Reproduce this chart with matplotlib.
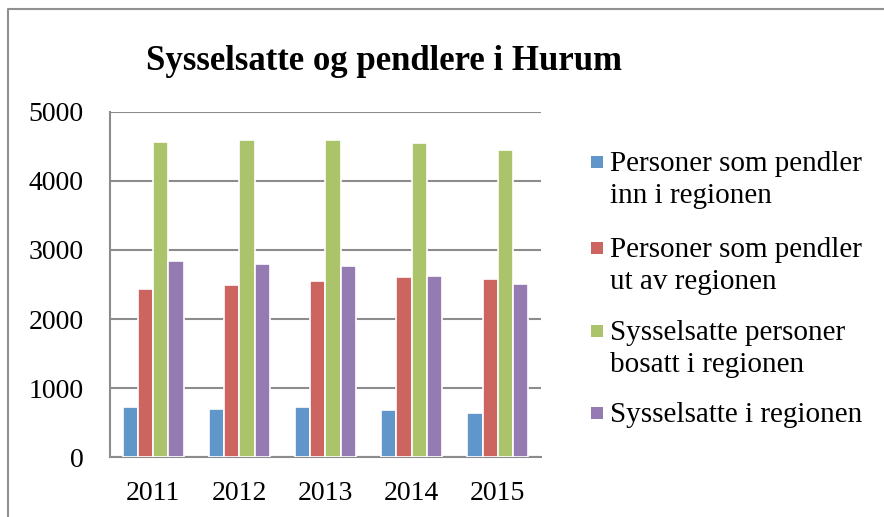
import matplotlib.pyplot as plt
import numpy as np
from matplotlib.lines import Line2D
from matplotlib.patches import Rectangle

# ==============================
# DATA
# ==============================
years = ["2011", "2012", "2013", "2014", "2015"]
pendler_inn = [724, 704, 724, 690, 642]
pendler_ut = [2441, 2489, 2552, 2615, 2581]
bosatt = [4559, 4588, 4597, 4554, 4448]
sysselsatte = [2846, 2803, 2774, 2624, 2513]

labels = [
    "Personer som pendler\ninn i regionen",
    "Personer som pendler\nut av regionen",
    "Sysselsatte personer\nbosatt i regionen",
    "Sysselsatte i regionen",
]
colors = ["#6196CA", "#CC6560", "#ABC46C", "#947BB1"]

FONT = "Liberation Serif"
GRID = "#8c8c8c"
W, H = 884, 517

# ==============================
# PLOT
# ==============================
fig = plt.figure(figsize=(W / 100, H / 100), dpi=100)
ax = fig.add_axes([0.1244, 0.1155, 0.4876, 0.6685])

x = np.arange(len(years))
w = 0.177
series = [pendler_inn, pendler_ut, bosatt, sysselsatte]
for i, (vals, col) in enumerate(zip(series, colors)):
    ax.bar(x + (i - 1.5) * w, vals, w, color=col, edgecolor="white",
           linewidth=1.2, zorder=3, label=labels[i])

ax.set_xlim(-0.5, len(years) - 0.5)
ax.set_ylim(0, 5000)
ax.set_yticks(range(0, 5001, 1000))
ax.set_xticks(x)
ax.set_xticklabels(years)
ax.yaxis.grid(True, color=GRID, linewidth=1.5, zorder=0)
ax.tick_params(length=0, labelsize=20)
ax.tick_params(axis="y", pad=19)
ax.tick_params(axis="x", pad=17)
for lab in ax.get_xticklabels() + ax.get_yticklabels():
    lab.set_fontfamily(FONT)

for s in ["top", "right"]:
    ax.spines[s].set_visible(False)
for s in ["left", "bottom"]:
    ax.spines[s].set_color(GRID)
    ax.spines[s].set_linewidth(1.5)

fig.text(384 / W, 1 - 70 / H, "Sysselsatte og pendlere i Hurum", ha="center",
         va="baseline", fontsize=25, fontweight="bold", family=FONT)

# legend drawn by hand so the marker sits on the first line of each label
first_line = [162, 248, 331, 413]
for lab, col, yc in zip(labels, colors, first_line):
    fig.add_artist(Rectangle((591 / W, 1 - (yc + 6) / H), 12 / W, 12 / H,
                             transform=fig.transFigure, facecolor=col,
                             edgecolor="none"))
    for k, line in enumerate(lab.split("\n")):
        fig.text(610 / W, 1 - (yc + 9 + 32 * k) / H, line, ha="left",
                 va="baseline", fontsize=21, family=FONT)

# outer chart frame (top and left edges)
fig.add_artist(Line2D([0.0095, 0.0095, 1.0], [0.0, 0.982, 0.982],
                      transform=fig.transFigure, color="#909090", linewidth=1.5))

fig.savefig("out.png", dpi=100)
